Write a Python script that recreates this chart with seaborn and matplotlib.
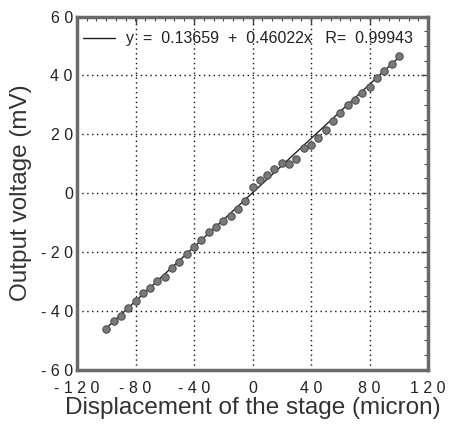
import numpy as np
import pandas as pd
import matplotlib
matplotlib.use("Agg")
import matplotlib.pyplot as plt
from matplotlib.ticker import MultipleLocator, FixedLocator
import seaborn as sns

# ---- data ----
displacement = list(range(-100, 105, 5))
voltage = [-46.3, -43.6, -41.9, -39.1, -36.6, -33.9, -32.2, -29.8, -28.4, -25.5,
           -23.3, -20.7, -18.4, -15.9, -13.2, -11.5, -9.6, -7.8, -5.4, -2.8,
           2.2, 4.4, 6.1, 8.1, 10.1, 9.8, 11.5, 15.3, 16.4, 18.9,
           21.4, 24.5, 27.1, 30.0, 31.8, 33.9, 36.2, 39.0, 41.6, 44.0, 46.5]
fit_intercept = 0.13659
fit_slope = 0.46022
fit_R = 0.99943

x_ticks = [-120, -80, -40, 0, 40, 80, 120]
x_ticklabels = ["- 1 2 0", "- 8 0", "- 4 0", "0", "4 0", "8 0", "1 2 0"]
y_ticks = [-60, -40, -20, 0, 20, 40, 60]
y_ticklabels = ["- 6 0", "- 4 0", "- 2 0", "0", "2 0", "4 0", "6 0"]

df = pd.DataFrame({"x": displacement, "y": voltage})
fit_x = [displacement[0], displacement[-1]]
fit_df = pd.DataFrame({"x": fit_x,
                       "y": [fit_intercept + fit_slope * v for v in fit_x]})

sns.set_theme(style="white")
plt.rcParams["font.family"] = ["Liberation Sans", "DejaVu Sans"]

fig = plt.figure(figsize=(4.53, 4.24), dpi=100)
ax = fig.add_axes([0.170, 0.128, 0.775, 0.833])

label = f"y  =  {fit_intercept}  +  {fit_slope}x   R=  {fit_R}"
sns.lineplot(data=fit_df, x="x", y="y", ax=ax, color="#222222", lw=1.0,
             label=label, zorder=3)
sns.scatterplot(data=df, x="x", y="y", ax=ax, s=28, color="#7a7a7a",
                edgecolor="#505050", linewidth=0.8, zorder=4, legend=False)

ax.set_xlim(-120, 120)
ax.set_ylim(-60, 60)
ax.xaxis.set_major_locator(FixedLocator(x_ticks))
ax.yaxis.set_major_locator(FixedLocator(y_ticks))
ax.set_xticklabels(x_ticklabels, fontsize=11.5, color="#222222")
ax.set_yticklabels(y_ticklabels, fontsize=11.5, color="#222222")
ax.xaxis.set_minor_locator(MultipleLocator(6.67))
ax.yaxis.set_minor_locator(MultipleLocator(5))
ax.tick_params(which="both", direction="in", top=True, right=True,
               color="#444444")
ax.tick_params(which="major", length=5, width=1.0)
ax.tick_params(which="minor", length=3, width=0.8)
ax.tick_params(axis="x", which="major", pad=8)
ax.tick_params(axis="y", which="major", pad=3)

ax.grid(True, which="major", linestyle=(0, (1, 2.5)), color="#111111",
        linewidth=1.0)
for sp in ax.spines.values():
    sp.set_linewidth(2.5)
    sp.set_color("#6a6a6a")

ax.set_xlabel("Displacement of the stage (micron)", fontsize=17.5,
              color="#333333", labelpad=1)
ax.set_ylabel("Output voltage (mV)", fontsize=17.5, color="#333333",
              labelpad=6)

leg = ax.legend(loc="upper left", bbox_to_anchor=(-0.01, 0.985), frameon=False,
                fontsize=11.5, handlelength=2.0, handletextpad=0.7,
                borderaxespad=0.2)
for t in leg.get_texts():
    t.set_color("#222222")

fig.savefig("out.png", dpi=100)
